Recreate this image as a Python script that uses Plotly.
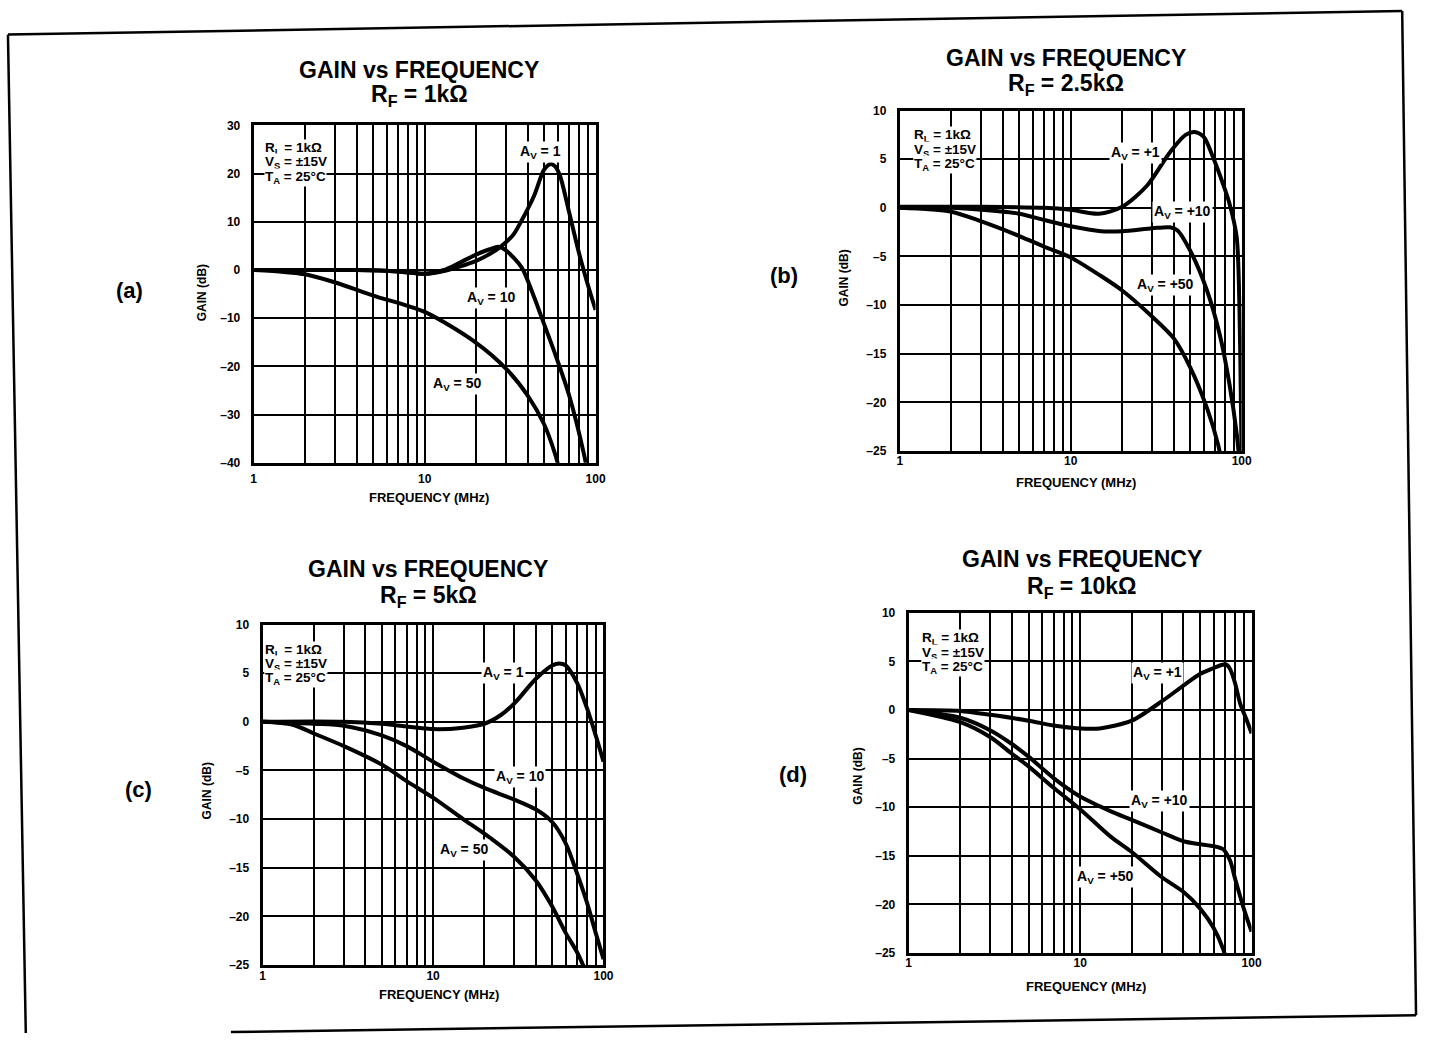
import plotly.graph_objects as go

# ---------------- DATA ----------------
# Panel (a) RF = 1kΩ
a_f1 = [1, 2, 4, 7, 10, 13, 16, 20, 24, 28, 33, 36.6, 43.7, 50, 54.7, 58, 62, 70, 80, 90, 100]
a_g1 = [0, 0, 0, -0.3, -0.8, -0.2, 0.7, 1.9, 3.3, 4.9, 7.3, 10, 15.4, 20.8, 22, 21.5, 19.5, 12, 3.5, -3, -8.3]
a_f10 = [1, 2, 4, 7, 10, 13, 16, 20, 24, 27, 30, 37, 43, 49, 58.5, 70, 85.5, 92]
a_g10 = [0, 0, 0, -0.3, -0.8, 0, 1.5, 3.2, 4.3, 4.8, 4.0, 0.5, -5, -10.4, -17.8, -26, -38.2, -44]
a_f50 = [1, 1.5, 2, 3, 5, 10, 20, 30, 40, 50, 58, 62]
a_g50 = [0, -0.4, -0.9, -2.6, -5.3, -8.7, -15.1, -20.5, -26, -32, -38.2, -42]

# Panel (b) RF = 2.5kΩ
b_f1 = [1, 3, 7, 10, 14.6, 20, 28, 38, 47, 53, 60, 68, 78, 85, 93.5, 97, 99, 100]
b_g1 = [0.1, 0.1, 0, -0.2, -0.6, 0.1, 2.3, 5.7, 7.5, 7.8, 7.3, 5.2, 2.4, 0.4, -3, -10, -20, -26]
b_f10 = [1, 2, 3, 5, 7, 10, 15, 20, 30, 38, 42, 50, 62.7, 74.6, 85, 93.5, 97]
b_g10 = [0, 0, -0.2, -0.6, -1.25, -1.9, -2.4, -2.4, -2.1, -2.0, -2.3, -4.4, -8.5, -13.1, -18.2, -23.2, -26]
b_f50 = [1, 2, 3, 5, 7, 10, 15, 20, 30, 40, 50, 62.7, 72.7, 76]
b_g50 = [0, -0.4, -1.4, -2.9, -4.0, -5.1, -7.0, -8.5, -11.2, -13.4, -16.4, -20.6, -24.3, -26]

# Panel (c) RF = 5kΩ
c_f1 = [1, 3, 5, 10, 15, 20, 25, 30, 40, 50, 55, 60, 70, 80, 90, 100]
c_g1 = [0, 0, -0.2, -0.75, -0.6, -0.2, 0.7, 1.9, 4.4, 5.8, 6.0, 5.8, 4.0, 1.4, -1.4, -4.1]
c_f10 = [1, 2, 3, 5, 7, 10, 15, 20, 30, 40, 50, 60, 70, 80, 90, 100]
c_g10 = [0, -0.2, -0.4, -1.4, -2.5, -4.1, -5.8, -6.8, -8.0, -9.0, -10.3, -12.5, -15.6, -18.6, -21.7, -24.4]
c_f50 = [1, 1.5, 2, 3, 5, 7, 10, 15, 20, 30, 40, 50, 60, 70, 78]
c_g50 = [0, -0.3, -1.2, -2.5, -4.4, -6.1, -7.8, -10, -11.5, -13.9, -16.3, -19, -21.7, -23.7, -25.5]

# Panel (d) RF = 10kΩ
d_f1 = [1, 2, 3, 5, 7, 10, 13, 20, 30, 40, 50, 60, 66, 71, 75, 80, 86, 94, 100]
d_g1 = [0, -0.1, -0.5, -1.1, -1.6, -1.9, -1.9, -1.1, 0.9, 2.5, 3.7, 4.3, 4.6, 4.7, 4.2, 2.8, 0.6, -1.1, -2.4]
d_f10 = [1, 2, 3, 4, 5, 7, 10, 15, 20, 30, 40, 50, 60, 68, 75, 80, 90, 100]
d_g10 = [0, -0.8, -2.1, -3.5, -4.8, -7, -8.9, -10.4, -11.3, -12.6, -13.5, -13.8, -14, -14.3, -15.5, -17.3, -20.4, -22.8]
d_f50 = [1, 2, 3, 4, 5, 7, 10, 15, 20, 30, 40, 50, 60, 68, 72]
d_g50 = [0, -1.25, -2.8, -4.5, -5.8, -8, -10.2, -13, -14.6, -17.2, -18.7, -20.4, -22.4, -24.5, -26]

x_tick_vals = [1, 2, 3, 4, 5, 6, 7, 8, 9, 10, 20, 30, 40, 50, 60, 70, 80, 90, 100]
x_tick_text = ["1", "", "", "", "", "", "", "", "", "10", "", "", "", "", "", "", "", "", "100"]
ya_ticks = [30, 20, 10, 0, -10, -20, -30, -40]
yb_ticks = [10, 5, 0, -5, -10, -15, -20, -25]

titles_rf = ["R<sub>F</sub> = 1kΩ", "R<sub>F</sub> = 2.5kΩ", "R<sub>F</sub> = 5kΩ", "R<sub>F</sub> = 10kΩ"]
panel_names = ["(a)", "(b)", "(c)", "(d)"]
labels_a = ["A<sub>V</sub> = 1", "A<sub>V</sub> = 10", "A<sub>V</sub> = 50"]
labels_b = ["A<sub>V</sub> = +1", "A<sub>V</sub> = +10", "A<sub>V</sub> = +50"]
cond_lines = ["R<sub>L</sub> = 1kΩ", "V<sub>S</sub> = ±15V", "T<sub>A</sub> = 25°C"]

# ---------------- LAYOUT ----------------
W, H = 1432, 1040
FONT = "Liberation Sans, Arial, Helvetica, sans-serif"


def px(x):
    return x / W


def py(y):
    return 1 - y / H


# plot-area pixel boxes (x0, x1, ytop, ybottom)
boxes = [(253, 598, 120, 462), (905, 1250, 105, 450), (262, 606, 626, 971), (914, 1260, 614, 959)]
yranges = [(-40, 30), (-25, 10), (-25, 10), (-25, 10)]
yticks = [ya_ticks, yb_ticks, yb_ticks, yb_ticks]
x_standoff = [3, -3, -2, -3]

series = [
    [(a_f1, a_g1), (a_f10, a_g10), (a_f50, a_g50)],
    [(b_f1, b_g1), (b_f10, b_g10), (b_f50, b_g50)],
    [(c_f1, c_g1), (c_f10, c_g10), (c_f50, c_g50)],
    [(d_f1, d_g1), (d_f10, d_g10), (d_f50, d_g50)],
]
av_labels = [labels_a, labels_b, labels_a, labels_b]

title_pos = [(420, 64, 90), (1073, 52, 79), (429, 570, 598), (1089, 560, 588)]
panel_pos = [(128, 287), (788, 272), (137, 793), (797, 778)]
av_pos = [
    [(542, 147), (492, 295), (458, 382)],
    [(1143, 148), (1190, 208), (1173, 282)],
    [(505, 675), (522, 780), (465, 855)],
    [(1165, 675), (1167, 805), (1113, 882)],
]
cond_pos = [(263, 143, 15), (918, 130, 15), (263, 652, 14.5), (926, 640, 15)]
gain_title_pos = [(201, 290), (849, 275), (206, 795), (862, 780)]
freq_title_pos = [(430, 497), (1083, 482), (440, 1001), (1093, 993)]

fig = go.Figure()
annotations = []
layout_axes = {}


def ann(x, y, text, size, **kw):
    d = dict(x=px(x), y=py(y), xref="paper", yref="paper", text=text,
             showarrow=False, xanchor="center", yanchor="middle",
             font=dict(family=FONT, size=size, color="black"))
    d.update(kw)
    return d


for i in range(4):
    x0, x1, yt, yb = boxes[i]
    xa = "x" if i == 0 else f"x{i+1}"
    ya = "y" if i == 0 else f"y{i+1}"
    xkey = "xaxis" if i == 0 else f"xaxis{i+1}"
    ykey = "yaxis" if i == 0 else f"yaxis{i+1}"
    for (f, g) in series[i]:
        fig.add_trace(go.Scatter(
            x=f, y=g, xaxis=xa, yaxis=ya, mode="lines",
            line=dict(color="black", width=4, shape="spline", smoothing=0.8),
            showlegend=False, hoverinfo="skip"))
    ylo, yhi = yranges[i]
    layout_axes[xkey] = dict(
        domain=[px(x0), px(x1)], anchor=ya, type="log", range=[0, 2],
        tickvals=x_tick_vals, ticktext=x_tick_text, ticks="",
        showgrid=True, gridcolor="black", gridwidth=1.6,
        showline=True, mirror=True, linecolor="black", linewidth=3,
        zeroline=False, ticklabelstandoff=x_standoff[i],
        tickfont=dict(family=FONT, size=12, color="black", weight="bold"))
    layout_axes[ykey] = dict(
        domain=[py(yb), py(yt)], anchor=xa, range=[ylo, yhi],
        tickvals=yticks[i], ticktext=[str(v).replace("-", "–") for v in yticks[i]], ticks="",
        showgrid=True, gridcolor="black", gridwidth=1.6,
        showline=True, mirror=True, linecolor="black", linewidth=3,
        zeroline=False, ticklabelstandoff=8,
        tickfont=dict(family=FONT, size=12, color="black", weight="bold"))

    tx, ty1, ty2 = title_pos[i]
    annotations.append(ann(tx, ty1, "<b>GAIN vs FREQUENCY</b>", 23))
    annotations.append(ann(tx, ty2, "<b>" + titles_rf[i] + "</b>", 23))
    pxl, pyl = panel_pos[i]
    annotations.append(ann(pxl, pyl, "<b>" + panel_names[i] + "</b>", 22))
    for j in range(3):
        ax_, ay_ = av_pos[i][j]
        annotations.append(ann(ax_, ay_, "<b>" + av_labels[i][j] + "</b>", 14,
                               bgcolor="white", borderpad=1))
    cx, cy, dy = cond_pos[i]
    for j in range(3):
        annotations.append(ann(cx, cy + j * dy, "<b>" + cond_lines[j] + "</b>", 13.5,
                               xanchor="left", bgcolor="white", borderpad=0))
    gx, gy = gain_title_pos[i]
    annotations.append(ann(gx, gy, "<b>GAIN (dB)</b>", 12, textangle=-90))
    fx, fy = freq_title_pos[i]
    annotations.append(ann(fx, fy, "<b>FREQUENCY (MHz)</b>", 13))

# outer frame of the scanned page
frame = [
    (5, 28, 1412, 4),
    (5, 28, 23, 1040),
    (1412, 4, 1426, 1022),
    (230, 1039, 1426, 1022),
]
shapes = [dict(type="line", xref="paper", yref="paper",
               x0=px(a), y0=py(b), x1=px(c), y1=py(d),
               line=dict(color="black", width=2.5)) for (a, b, c, d) in frame]

fig.update_layout(
    width=W, height=H, margin=dict(l=0, r=0, t=0, b=0),
    paper_bgcolor="white", plot_bgcolor="white",
    annotations=annotations, shapes=shapes,
    font=dict(family=FONT, color="black"),
    **layout_axes)

fig.write_html(
    "out.html",
    config={"displayModeBar": False},
    post_script=("document.body.style.margin='0';"
                 "document.body.style.overflow='hidden';"
                 "document.documentElement.style.overflow='hidden';"))
